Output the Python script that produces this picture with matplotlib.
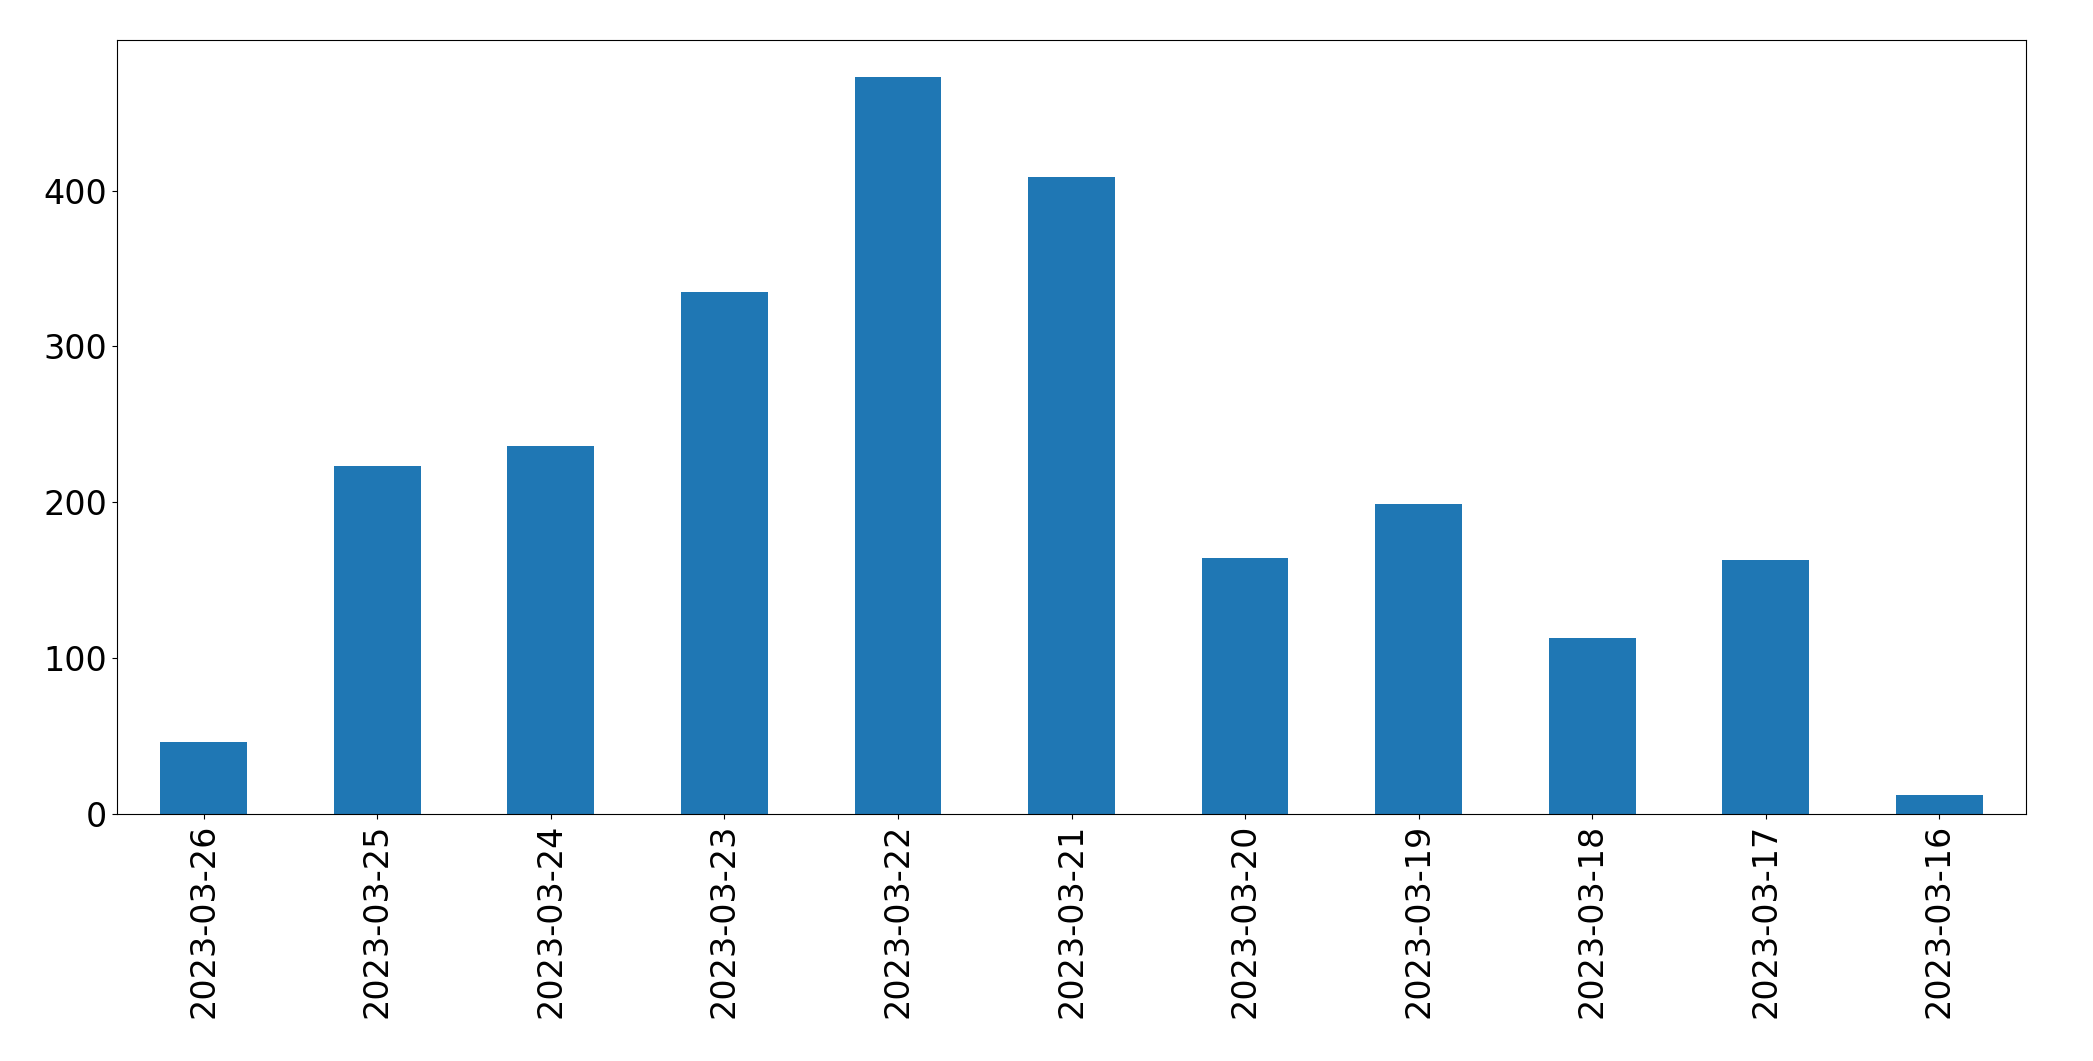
import matplotlib
matplotlib.use("Agg")
import matplotlib.pyplot as plt
import numpy as np

dates = ["2023-03-26","2023-03-25","2023-03-24","2023-03-23","2023-03-22","2023-03-21",
         "2023-03-20","2023-03-19","2023-03-18","2023-03-17","2023-03-16"]
counts = [46, 223, 236, 335, 473, 409, 164, 199, 113, 163, 12]

fig = plt.figure(figsize=(20.93, 10.61), dpi=100)
ax = fig.add_axes([117/2093, 1-814/1061, (2026-117)/2093, (814-40)/1061])
x = np.arange(len(dates))
ax.bar(x, counts, width=0.5, color="#1f77b4")
ax.set_xlim(-0.5, len(dates)-0.5)
ax.set_xticks(x)
ax.set_xticklabels(dates, rotation=90)
ax.tick_params(labelsize=24)
fig.savefig("out.png", dpi=100)
